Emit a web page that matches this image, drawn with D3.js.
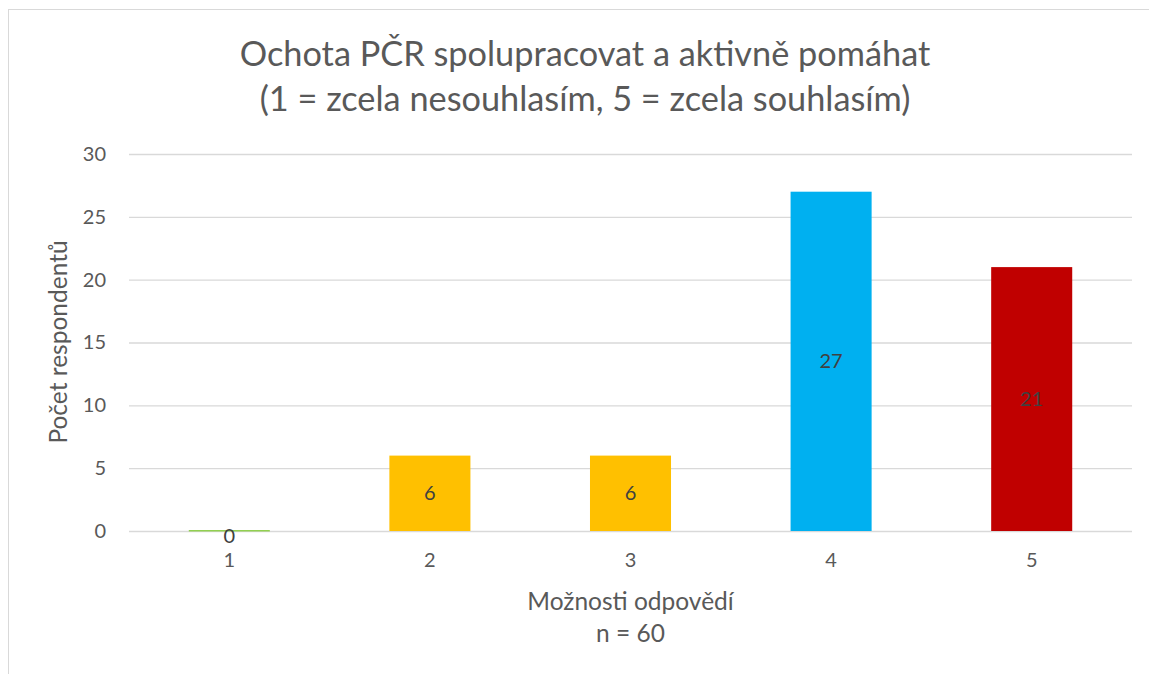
<!DOCTYPE html>
<html>
<head>
<meta charset="utf-8">
<script src="https://cdn.jsdelivr.net/npm/d3@7"></script>
<style>
  body { margin: 0; background: #fff; }
  text { font-family: Lato, "Open Sans", sans-serif; }
</style>
</head>
<body>
<div id="chart"></div>
<script>
// data
var categories = ["1", "2", "3", "4", "5"]
var values = [0, 6, 6, 27, 21]
var barColors = ["#92D050", "#FFC000", "#FFC000", "#00B0F0", "#C00000"]
var yTicks = [0, 5, 10, 15, 20, 25, 30]
var titleLines = ["Ochota PČR spolupracovat a aktivně pomáhat", "(1 = zcela nesouhlasím, 5 = zcela souhlasím)"]
var xTitle = "Možnosti odpovědí"
var xNote = "n = 60"
var yTitle = "Počet respondentů"

var W = 1149, H = 674
var margin = {top: 154, right: 17, bottom: 143, left: 129},
  width = W - margin.left - margin.right,
  height = H - margin.top - margin.bottom

var svg = d3.select("#chart")
  .append("svg")
  .attr("width", W)
  .attr("height", H)

// chart area border
svg.append("rect")
  .attr("x", 8.5).attr("y", 9.5)
  .attr("width", W + 10).attr("height", H + 10)
  .attr("fill", "#fff")
  .attr("stroke", "#D9D9D9")
  .attr("stroke-width", 1)

var g = svg.append("g")
  .attr("transform", "translate(" + margin.left + "," + margin.top + ")")

var x = d3.scaleBand()
  .domain(categories)
  .range([0, width])
  .paddingInner(0.596)
  .paddingOuter(0.298)

var y = d3.scaleLinear()
  .domain([0, 30])
  .range([height, 0])

// gridlines + y ticks
var yAxis = g.append("g")
  .call(d3.axisLeft(y).tickValues(yTicks).tickSize(-width).tickPadding(23))
yAxis.select(".domain").remove()
yAxis.selectAll(".tick line").attr("stroke", "#D9D9D9").attr("stroke-width", 1.3)
yAxis.selectAll(".tick text")
  .attr("fill", "#595959")
  .style("font-size", "20px")

// bars
g.selectAll(".bar")
  .data(values)
  .enter()
  .append("rect")
    .attr("class", "bar")
    .attr("x", function(d, i) { return x(categories[i]) })
    .attr("y", function(d) { return y(d) - (d == 0 ? 1 : 0) })
    .attr("width", x.bandwidth())
    .attr("height", function(d) { return Math.max(height - y(d), 0) + (d == 0 ? 1.5 : 0) })
    .attr("fill", function(d, i) { return barColors[i] })

// x axis labels
var xAxis = g.append("g")
  .attr("transform", "translate(0," + height + ")")
  .call(d3.axisBottom(x).tickSize(0).tickPadding(22))
xAxis.select(".domain").remove()
xAxis.selectAll(".tick text")
  .attr("fill", "#595959")
  .style("font-size", "20px")

// data labels
g.selectAll(".lbl")
  .data(values)
  .enter()
  .append("text")
    .attr("class", "lbl")
    .attr("x", function(d, i) { return x(categories[i]) + x.bandwidth() / 2 })
    .attr("y", function(d) { return d == 0 ? y(0) + 5 : (y(d) + y(0)) / 2 })
    .attr("dy", "0.35em")
    .attr("text-anchor", "middle")
    .attr("fill", "#404040")
    .style("font-size", "20px")
    .text(function(d) { return d })

// title
svg.append("g").selectAll("text")
  .data(titleLines)
  .enter()
  .append("text")
    .attr("x", 585)
    .attr("y", function(d, i) { return 66 + i * 45 })
    .attr("text-anchor", "middle")
    .attr("fill", "#595959")
    .style("font-size", "34.3px")
    .text(function(d) { return d })

// axis titles
svg.append("text")
  .attr("x", margin.left + width / 2)
  .attr("y", 610)
  .attr("text-anchor", "middle")
  .attr("fill", "#595959")
  .style("font-size", "24.5px")
  .text(xTitle)

svg.append("text")
  .attr("x", margin.left + width / 2)
  .attr("y", 642)
  .attr("text-anchor", "middle")
  .attr("fill", "#595959")
  .style("font-size", "24.5px")
  .text(xNote)

svg.append("text")
  .attr("transform", "translate(67,342) rotate(-90)")
  .attr("text-anchor", "middle")
  .attr("fill", "#595959")
  .style("font-size", "24.5px")
  .text(yTitle)
</script>
</body>
</html>
